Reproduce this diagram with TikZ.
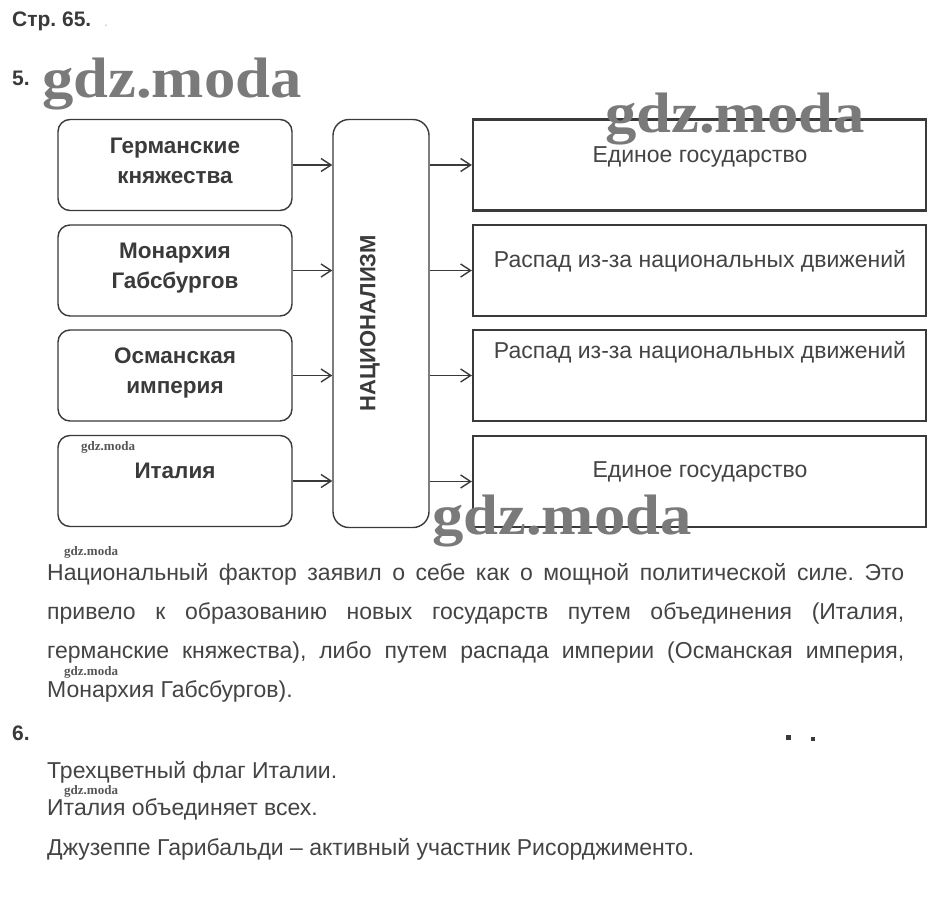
\documentclass[tikz,border=0pt]{standalone}
\usepackage{fontspec}
\setmainfont{Liberation Sans}
\newfontfamily\wmfont{Liberation Serif}
\usetikzlibrary{arrows.meta}
\frenchspacing
\definecolor{ink}{HTML}{3A3A3A}
\definecolor{txt}{HTML}{444444}
\definecolor{wm}{HTML}{7A7A7A}
\definecolor{wmsmall}{HTML}{555555}
\tikzset{
  srcbox/.style={draw=ink, line width=1.4pt, rounded corners=12pt, minimum width=234pt, minimum height=91pt, inner sep=0pt},
  hubbox/.style={draw=ink, line width=1.4pt, rounded corners=16pt, minimum width=96pt, minimum height=408pt, inner sep=0pt},
  resbox/.style={draw=ink, line width=2.2pt, minimum width=453pt, minimum height=91pt, inner sep=0pt},
  srctext/.style={anchor=base, inner sep=0pt, text=ink, font=\fontsize{22.5}{26}\selectfont\bfseries},
  restext/.style={anchor=base, inner sep=0pt, text=txt, font=\fontsize{23}{27}\selectfont},
  bodytext/.style={anchor=base west, inner sep=0pt, text=txt, font=\fontsize{23}{27}\selectfont},
  headtext/.style={anchor=base west, inner sep=0pt, text=ink, font=\fontsize{21}{25}\selectfont\bfseries},
  arr/.style={draw=ink, line width=1.4pt, -{Straight Barb[length=10pt,width=13pt,line width=1.4pt]}},
  bigwm/.style={anchor=base west, inner sep=0pt, text=wm, font=\wmfont\fontsize{57}{60}\selectfont\bfseries, xscale=1.1},
  smallwm/.style={anchor=base west, inner sep=0pt, text=wmsmall, font=\wmfont\fontsize{13}{15}\selectfont\bfseries},
}
\begin{document}
\begin{tikzpicture}[x=1pt,y=-1pt]
\useasboundingbox[fill=white] (0,0) rectangle (939,910);

% headers
\node[headtext] (hdr) at (12,26) {Стр. 65.};
\node[anchor=base west, inner sep=0pt, text=gray!45, font=\fontsize{14}{16}\selectfont] (hdrdot) at (104,26) {.};
\node[headtext] (n5) at (12,85) {5.};
\node[headtext] (n6) at (12,740) {6.};

% left boxes
\node[srcbox] (l1) at (175,165) {};
\node[srcbox] (l2) at (175,270.5) {};
\node[srcbox] (l3) at (175,375.5) {};
\node[srcbox] (l4) at (175,481) {};

\node[srctext] (l1a) at (175,153) {Германские};
\node[srctext] (l1b) at (175,183) {княжества};
\node[srctext] (l2a) at (175,258) {Монархия};
\node[srctext] (l2b) at (175,288) {Габсбургов};
\node[srctext] (l3a) at (175,363) {Османская};
\node[srctext] (l3b) at (175,393) {империя};
\node[srctext] (l4a) at (175,478) {Италия};

% hub
\node[hubbox] (hub) at (381,323.5) {};
\node[rotate=90, inner sep=0pt, text=ink, font=\fontsize{22}{26}\selectfont\bfseries] (hubt) at (370,323) {НАЦИОНАЛИЗМ};

% right boxes
\node[resbox] (r1) at (699.5,165) {};
\node[resbox] (r2) at (699.5,270.5) {};
\node[resbox] (r3) at (699.5,375.5) {};
\node[resbox] (r4) at (699.5,481.5) {};

\node[restext] (r1t) at (700,162) {Единое государство};
\node[restext] (r2t) at (700,267) {Распад из-за национальных движений};
\node[restext] (r3t) at (700,358) {Распад из-за национальных движений};
\node[restext] (r4t) at (700,477) {Единое государство};

% arrows
\foreach \i in {1,2,3,4}{
  \draw[arr] (l\i.east) -- (hub.west |- l\i.east);
  \draw[arr] (hub.east |- r\i.west) -- (r\i.west);
}

% paragraph
\node[bodytext] (p1) at (47,580) {\makebox[857pt][s]{Национальный фактор заявил о себе как о мощной политической силе. Это}};
\node[bodytext] (p2) at (47,619) {\makebox[857pt][s]{привело к образованию новых государств путем объединения (Италия,}};
\node[bodytext] (p3) at (47,658) {\makebox[857pt][s]{германские княжества), либо путем распада империи (Османская империя,}};
\node[bodytext] (p4) at (47,697) {Монархия Габсбургов).};

% section 6
\node[bodytext] (q1) at (47,778) {Трехцветный флаг Италии.};
\node[bodytext] (q2) at (47,815) {Италия объединяет всех.};
\node[bodytext] (q3) at (47,855) {Джузеппе Гарибальди – активный участник Рисорджименто.};

% stray dots
\fill[ink] (786,735) rectangle (791,740);
\fill[ink] (811,737) rectangle (815,741);

% watermarks
\node[smallwm] (w4) at (81,450) {gdz.moda};
\node[smallwm] (w5) at (64,555) {gdz.moda};
\node[smallwm] (w6) at (64,675) {gdz.moda};
\node[smallwm] (w7) at (64,794) {gdz.moda};
\node[bigwm] (w1) at (42,97) {gdz.moda};
\node[bigwm] (w2) at (605,132) {gdz.moda};
\node[bigwm] (w3) at (432,534) {gdz.moda};
\end{tikzpicture}
\end{document}
